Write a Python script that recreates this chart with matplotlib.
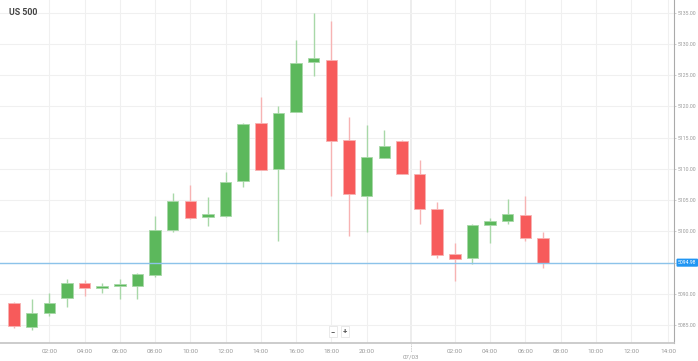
import matplotlib
matplotlib.use("Agg")
import matplotlib.pyplot as plt
import numpy as np

plt.rcParams['font.family'] = ['Roboto', 'DejaVu Sans']

# hourly candles, US 500 (07/02 00:00 .. 07/03 07:00, one hour break)
opens = [5088.5, 5084.7, 5087.0, 5089.3, 5091.8, 5091.0, 5091.3, 5091.2, 5093.0, 5100.2,
         5104.9, 5102.3, 5102.5, 5108.1, 5117.3, 5109.9, 5119.1, 5127.1, 5127.5, 5114.6,
         5105.7, 5111.7, 5114.4, 5109.2, 5103.6, 5096.3, 5095.8, 5101.0, 5101.7, 5102.6,
         5099.0]
highs = [5088.7, 5089.2, 5090.1, 5092.4, 5092.2, 5091.8, 5092.3, 5093.4, 5102.5, 5106.1,
         5107.4, 5105.5, 5109.5, 5117.4, 5121.5, 5120.0, 5130.6, 5135.0, 5133.7, 5118.3,
         5117.0, 5116.2, 5114.6, 5111.4, 5104.7, 5098.2, 5101.2, 5102.2, 5105.1, 5105.7,
         5099.9]
lows = [5084.5, 5084.2, 5086.4, 5087.9, 5089.7, 5090.2, 5089.2, 5089.2, 5092.7, 5099.9,
        5102.0, 5100.9, 5102.3, 5107.1, 5109.8, 5098.5, 5119.1, 5124.9, 5105.7, 5099.3,
        5099.9, 5111.7, 5109.1, 5101.1, 5095.7, 5092.0, 5094.7, 5098.2, 5101.1, 5098.5,
        5094.2]
closes = [5084.8, 5086.9, 5088.6, 5091.7, 5090.9, 5091.1, 5091.4, 5093.1, 5100.2, 5104.9,
          5102.1, 5102.7, 5107.9, 5117.1, 5109.8, 5118.9, 5126.9, 5127.7, 5114.4, 5105.9,
          5111.9, 5113.7, 5109.1, 5103.6, 5096.2, 5095.5, 5101.0, 5101.7, 5102.8, 5098.9,
          5094.98]

tick_pos = [2, 4, 6, 8, 10, 12, 14, 16, 18, 20, 25, 27, 29, 31, 33, 35, 37.1]
tick_labels = ['02:00', '04:00', '06:00', '08:00', '10:00', '12:00', '14:00', '16:00',
               '18:00', '20:00', '02:00', '04:00', '06:00', '08:00', '10:00', '12:00', '14:00']
day_pos = 22.5
day_label = '07/03'
price_ticks = [5085, 5090, 5095, 5100, 5105, 5110, 5115, 5120, 5125, 5130, 5135]

green, green_l = '#5cb85c', '#a8d8a8'
red, red_l = '#f75b5b', '#f7b3b3'

fig = plt.figure(figsize=(6.98, 3.61), dpi=100)
ax = fig.add_axes([0, 0.0499, 0.9656, 0.9501])

x = np.arange(len(opens))
w = 0.65
for i in x:
    o, h, l, c = opens[i], highs[i], lows[i], closes[i]
    up = c >= o
    col = green if up else red
    lcol = green_l if up else red_l
    ax.vlines(i, l, h, color=lcol, lw=1, zorder=2)
    bot = min(o, c)
    hgt = max(abs(c - o), 0.35)
    ax.bar(i, hgt, w, bottom=bot - (hgt - abs(c - o)) / 2, color=col,
           edgecolor=lcol, lw=0.6, zorder=3)

# last price line
last = closes[-1]
ax.axhline(last, color='#8cc3ea', lw=1, zorder=4)
ax.text(1.006, last, f'{last:.2f}', transform=ax.get_yaxis_transform(),
        ha='left', va='center', fontsize=3.7, color='white', zorder=5, clip_on=False,
        bbox=dict(boxstyle='round,pad=0.3,rounding_size=0.2', fc='#2196f3', ec='none'))

ax.set_xlim(-0.794, 37.43)
ax.set_ylim(5082.12, 5137.03)

ax.set_xticks(tick_pos)
ax.set_xticklabels(tick_labels)
ax.set_yticks(price_ticks)
# the 5095 label sits under the last-price tag
ax.set_yticklabels(['' if p == 5095 else f'{p:.2f}' for p in price_ticks])
ax.yaxis.tick_right()
ax.tick_params(axis='x', length=0, pad=4, labelsize=4.6, labelcolor='#999999')
ax.tick_params(axis='y', length=1.5, width=0.5, color='#bbbbbb', pad=1.5,
               labelsize=3.7, labelcolor='#999999')

ax.set_axisbelow(True)
ax.grid(True, color='#f0f0f0', lw=0.8)
ax.axvline(day_pos, color='#eaeaea', lw=1.2, zorder=0)
ax.text(day_pos, -0.041, day_label, transform=ax.get_xaxis_transform(),
        ha='center', va='center', fontsize=4.4, color='#999999', clip_on=False)
ax.plot([day_pos, day_pos], [-0.004, -0.025], transform=ax.get_xaxis_transform(),
        color='#bbbbbb', lw=0.6, ls=(0, (1, 1)), clip_on=False)

for s in ['top', 'left']:
    ax.spines[s].set_visible(False)
ax.spines['right'].set_color('#aaaaaa')
ax.spines['bottom'].set_color('#c4c4c4')
ax.spines['bottom'].set_linewidth(1.2)

ax.text(0.014, 0.965, 'US 500', transform=ax.transAxes, fontsize=6.3, fontweight='bold',
        color='#444444', ha='left', va='center')

# zoom buttons
for xx, s in [(0.494, '\u2212'), (0.512, '+')]:
    ax.text(xx, 0.034, s, transform=ax.transAxes, fontsize=5.5, fontweight='bold',
            color='#555555', ha='center', va='center',
            bbox=dict(boxstyle='square,pad=0.25', fc='white', ec='#e6e6e6', lw=0.6))

fig.savefig('out.png', dpi=100)
